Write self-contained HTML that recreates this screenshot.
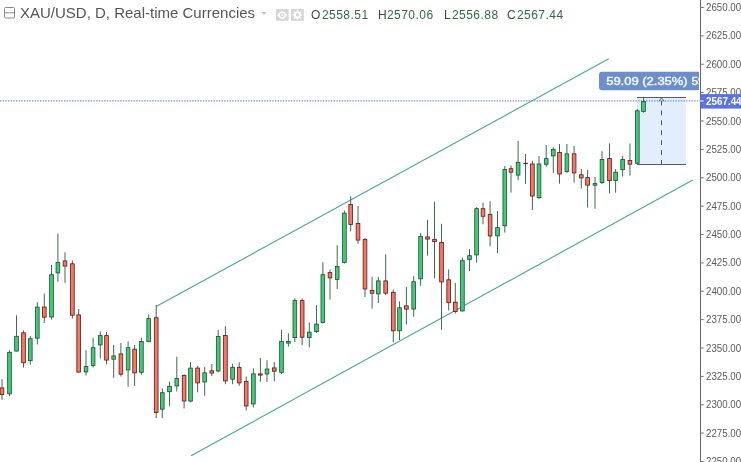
<!DOCTYPE html>
<html><head><meta charset="utf-8"><style>
html,body{margin:0;padding:0;background:#fff;width:741px;height:462px;overflow:hidden}
#wrap{position:relative;width:741px;height:462px;overflow:hidden;background:#fff}
svg{position:absolute;left:0;top:0;will-change:transform}
.hd{position:absolute;-webkit-font-smoothing:antialiased;will-change:transform;white-space:nowrap;font-family:"Liberation Sans",Arial,sans-serif}
</style></head><body><div id="wrap">
<svg width="741" height="462" viewBox="0 0 741 462">
<!-- measure rect -->
<rect x="637" y="97.5" width="48.8" height="67" fill="#e3eefc"/>
<!-- channel lines -->
<line x1="156.6" y1="306.3" x2="608.8" y2="58.8" stroke="#40aa92" stroke-width="1.1"/>
<line x1="191.1" y1="455.7" x2="692.8" y2="180.0" stroke="#40aa92" stroke-width="1.1"/>
<!-- last price dotted line -->
<line x1="0" y1="100.9" x2="700" y2="100.9" stroke="#7086ee" stroke-width="1.1" stroke-dasharray="1.34 1.33"/>
<line x1="2.00" y1="379.2" x2="2.00" y2="400.0" stroke="#3a6c4f" stroke-width="1"/>
<rect x="0.15" y="387.90" width="3.70" height="6.70" fill="#f97565" stroke="#5b1a13" stroke-width="0.8"/>
<line x1="9.50" y1="350.3" x2="9.50" y2="396.2" stroke="#3a6c4f" stroke-width="1"/>
<rect x="7.65" y="352.30" width="3.70" height="41.50" fill="#3ccd78" stroke="#1d4f31" stroke-width="0.8"/>
<line x1="16.50" y1="315.3" x2="16.50" y2="351.5" stroke="#3a6c4f" stroke-width="1"/>
<rect x="14.65" y="336.30" width="3.70" height="14.80" fill="#3ccd78" stroke="#1d4f31" stroke-width="0.8"/>
<line x1="23.50" y1="330.5" x2="23.50" y2="367.5" stroke="#3a6c4f" stroke-width="1"/>
<rect x="21.65" y="332.80" width="3.70" height="30.00" fill="#f97565" stroke="#5b1a13" stroke-width="0.8"/>
<line x1="30.30" y1="336.0" x2="30.30" y2="364.6" stroke="#3a6c4f" stroke-width="1"/>
<rect x="28.45" y="338.70" width="3.70" height="22.00" fill="#3ccd78" stroke="#1d4f31" stroke-width="0.8"/>
<line x1="37.30" y1="302.2" x2="37.30" y2="344.5" stroke="#3a6c4f" stroke-width="1"/>
<rect x="35.45" y="307.10" width="3.70" height="31.10" fill="#3ccd78" stroke="#1d4f31" stroke-width="0.8"/>
<line x1="44.30" y1="293.6" x2="44.30" y2="323.0" stroke="#3a6c4f" stroke-width="1"/>
<rect x="42.45" y="307.00" width="3.70" height="10.20" fill="#f97565" stroke="#5b1a13" stroke-width="0.8"/>
<line x1="51.50" y1="265.0" x2="51.50" y2="319.5" stroke="#3a6c4f" stroke-width="1"/>
<rect x="49.65" y="274.70" width="3.70" height="42.30" fill="#3ccd78" stroke="#1d4f31" stroke-width="0.8"/>
<line x1="57.90" y1="233.6" x2="57.90" y2="281.8" stroke="#3a6c4f" stroke-width="1"/>
<rect x="56.05" y="262.50" width="3.70" height="10.40" fill="#3ccd78" stroke="#1d4f31" stroke-width="0.8"/>
<line x1="65.00" y1="252.3" x2="65.00" y2="282.9" stroke="#3a6c4f" stroke-width="1"/>
<rect x="63.15" y="260.90" width="3.70" height="5.20" fill="#f97565" stroke="#5b1a13" stroke-width="0.8"/>
<line x1="72.40" y1="260.5" x2="72.40" y2="318.5" stroke="#3a6c4f" stroke-width="1"/>
<rect x="70.55" y="263.80" width="3.70" height="51.40" fill="#f97565" stroke="#5b1a13" stroke-width="0.8"/>
<line x1="78.70" y1="309.0" x2="78.70" y2="372.5" stroke="#3a6c4f" stroke-width="1"/>
<rect x="76.85" y="314.90" width="3.70" height="57.20" fill="#f97565" stroke="#5b1a13" stroke-width="0.8"/>
<line x1="86.00" y1="350.2" x2="86.00" y2="375.6" stroke="#3a6c4f" stroke-width="1"/>
<rect x="84.15" y="366.60" width="3.70" height="5.30" fill="#3ccd78" stroke="#1d4f31" stroke-width="0.8"/>
<line x1="93.10" y1="337.9" x2="93.10" y2="367.4" stroke="#3a6c4f" stroke-width="1"/>
<rect x="91.25" y="347.70" width="3.70" height="17.70" fill="#3ccd78" stroke="#1d4f31" stroke-width="0.8"/>
<line x1="100.30" y1="331.3" x2="100.30" y2="358.4" stroke="#3a6c4f" stroke-width="1"/>
<rect x="98.45" y="335.60" width="3.70" height="9.30" fill="#3ccd78" stroke="#1d4f31" stroke-width="0.8"/>
<line x1="106.50" y1="332.1" x2="106.50" y2="364.4" stroke="#3a6c4f" stroke-width="1"/>
<rect x="104.65" y="335.60" width="3.70" height="24.50" fill="#f97565" stroke="#5b1a13" stroke-width="0.8"/>
<line x1="113.70" y1="345.0" x2="113.70" y2="377.9" stroke="#3a6c4f" stroke-width="1"/>
<rect x="111.85" y="355.90" width="3.70" height="3.30" fill="#3ccd78" stroke="#1d4f31" stroke-width="0.8"/>
<line x1="120.90" y1="343.0" x2="120.90" y2="376.5" stroke="#3a6c4f" stroke-width="1"/>
<rect x="119.05" y="353.90" width="3.70" height="20.30" fill="#f97565" stroke="#5b1a13" stroke-width="0.8"/>
<line x1="128.10" y1="341.4" x2="128.10" y2="386.7" stroke="#3a6c4f" stroke-width="1"/>
<rect x="126.25" y="347.70" width="3.70" height="22.20" fill="#3ccd78" stroke="#1d4f31" stroke-width="0.8"/>
<line x1="134.60" y1="345.0" x2="134.60" y2="386.0" stroke="#3a6c4f" stroke-width="1"/>
<rect x="132.75" y="349.20" width="3.70" height="23.70" fill="#f97565" stroke="#5b1a13" stroke-width="0.8"/>
<line x1="141.40" y1="337.7" x2="141.40" y2="374.8" stroke="#3a6c4f" stroke-width="1"/>
<rect x="139.55" y="341.40" width="3.70" height="30.90" fill="#3ccd78" stroke="#1d4f31" stroke-width="0.8"/>
<line x1="148.70" y1="314.5" x2="148.70" y2="342.1" stroke="#3a6c4f" stroke-width="1"/>
<rect x="146.85" y="318.60" width="3.70" height="23.10" fill="#3ccd78" stroke="#1d4f31" stroke-width="0.8"/>
<line x1="156.20" y1="305.0" x2="156.20" y2="418.2" stroke="#3a6c4f" stroke-width="1"/>
<rect x="154.35" y="317.70" width="3.70" height="94.90" fill="#f97565" stroke="#5b1a13" stroke-width="0.8"/>
<line x1="162.30" y1="388.4" x2="162.30" y2="418.2" stroke="#3a6c4f" stroke-width="1"/>
<rect x="160.45" y="392.70" width="3.70" height="16.50" fill="#3ccd78" stroke="#1d4f31" stroke-width="0.8"/>
<line x1="169.50" y1="381.6" x2="169.50" y2="405.9" stroke="#3a6c4f" stroke-width="1"/>
<rect x="167.65" y="386.30" width="3.70" height="5.40" fill="#3ccd78" stroke="#1d4f31" stroke-width="0.8"/>
<line x1="176.80" y1="356.8" x2="176.80" y2="391.5" stroke="#3a6c4f" stroke-width="1"/>
<rect x="174.95" y="378.60" width="3.70" height="7.40" fill="#3ccd78" stroke="#1d4f31" stroke-width="0.8"/>
<line x1="184.10" y1="374.3" x2="184.10" y2="408.5" stroke="#3a6c4f" stroke-width="1"/>
<rect x="182.25" y="375.40" width="3.70" height="25.60" fill="#f97565" stroke="#5b1a13" stroke-width="0.8"/>
<line x1="190.50" y1="362.2" x2="190.50" y2="402.3" stroke="#3a6c4f" stroke-width="1"/>
<rect x="188.65" y="368.10" width="3.70" height="33.00" fill="#3ccd78" stroke="#1d4f31" stroke-width="0.8"/>
<line x1="197.60" y1="366.0" x2="197.60" y2="392.3" stroke="#3a6c4f" stroke-width="1"/>
<rect x="195.75" y="368.10" width="3.70" height="14.80" fill="#f97565" stroke="#5b1a13" stroke-width="0.8"/>
<line x1="204.70" y1="366.8" x2="204.70" y2="395.8" stroke="#3a6c4f" stroke-width="1"/>
<rect x="202.85" y="372.80" width="3.70" height="9.20" fill="#3ccd78" stroke="#1d4f31" stroke-width="0.8"/>
<line x1="211.80" y1="364.0" x2="211.80" y2="376.2" stroke="#3a6c4f" stroke-width="1"/>
<rect x="209.95" y="370.80" width="3.70" height="2.30" fill="#f97565" stroke="#5b1a13" stroke-width="0.8"/>
<line x1="218.20" y1="329.7" x2="218.20" y2="372.4" stroke="#3a6c4f" stroke-width="1"/>
<rect x="216.35" y="336.40" width="3.70" height="34.60" fill="#3ccd78" stroke="#1d4f31" stroke-width="0.8"/>
<line x1="225.40" y1="326.2" x2="225.40" y2="384.2" stroke="#3a6c4f" stroke-width="1"/>
<rect x="223.55" y="335.40" width="3.70" height="45.50" fill="#f97565" stroke="#5b1a13" stroke-width="0.8"/>
<line x1="232.60" y1="363.8" x2="232.60" y2="384.2" stroke="#3a6c4f" stroke-width="1"/>
<rect x="230.75" y="367.30" width="3.70" height="11.90" fill="#3ccd78" stroke="#1d4f31" stroke-width="0.8"/>
<line x1="239.20" y1="362.2" x2="239.20" y2="385.8" stroke="#3a6c4f" stroke-width="1"/>
<rect x="237.35" y="367.30" width="3.70" height="15.60" fill="#f97565" stroke="#5b1a13" stroke-width="0.8"/>
<line x1="246.20" y1="376.5" x2="246.20" y2="410.5" stroke="#3a6c4f" stroke-width="1"/>
<rect x="244.35" y="381.50" width="3.70" height="24.50" fill="#f97565" stroke="#5b1a13" stroke-width="0.8"/>
<line x1="253.40" y1="368.3" x2="253.40" y2="407.4" stroke="#3a6c4f" stroke-width="1"/>
<rect x="251.55" y="373.90" width="3.70" height="30.00" fill="#3ccd78" stroke="#1d4f31" stroke-width="0.8"/>
<line x1="260.40" y1="358.0" x2="260.40" y2="381.7" stroke="#3a6c4f" stroke-width="1"/>
<rect x="258.55" y="373.90" width="3.70" height="1.20" fill="#f97565" stroke="#5b1a13" stroke-width="0.8"/>
<line x1="267.00" y1="360.2" x2="267.00" y2="382.0" stroke="#3a6c4f" stroke-width="1"/>
<rect x="265.15" y="369.00" width="3.70" height="5.00" fill="#3ccd78" stroke="#1d4f31" stroke-width="0.8"/>
<line x1="274.30" y1="361.9" x2="274.30" y2="381.3" stroke="#3a6c4f" stroke-width="1"/>
<rect x="272.45" y="367.90" width="3.70" height="3.30" fill="#f97565" stroke="#5b1a13" stroke-width="0.8"/>
<line x1="281.50" y1="330.0" x2="281.50" y2="374.0" stroke="#3a6c4f" stroke-width="1"/>
<rect x="279.65" y="341.30" width="3.70" height="31.00" fill="#3ccd78" stroke="#1d4f31" stroke-width="0.8"/>
<line x1="288.40" y1="333.3" x2="288.40" y2="346.7" stroke="#3a6c4f" stroke-width="1"/>
<rect x="286.55" y="341.30" width="3.70" height="1.80" fill="#3ccd78" stroke="#1d4f31" stroke-width="0.8"/>
<line x1="294.85" y1="298.2" x2="294.85" y2="342.0" stroke="#3a6c4f" stroke-width="1"/>
<rect x="293.00" y="300.60" width="3.70" height="37.00" fill="#3ccd78" stroke="#1d4f31" stroke-width="0.8"/>
<line x1="302.15" y1="298.5" x2="302.15" y2="345.2" stroke="#3a6c4f" stroke-width="1"/>
<rect x="300.30" y="300.60" width="3.70" height="36.60" fill="#f97565" stroke="#5b1a13" stroke-width="0.8"/>
<line x1="309.30" y1="322.5" x2="309.30" y2="347.4" stroke="#3a6c4f" stroke-width="1"/>
<rect x="307.45" y="332.20" width="3.70" height="5.40" fill="#3ccd78" stroke="#1d4f31" stroke-width="0.8"/>
<line x1="316.50" y1="305.2" x2="316.50" y2="333.0" stroke="#3a6c4f" stroke-width="1"/>
<rect x="314.65" y="324.10" width="3.70" height="7.50" fill="#3ccd78" stroke="#1d4f31" stroke-width="0.8"/>
<line x1="322.85" y1="262.2" x2="322.85" y2="323.5" stroke="#3a6c4f" stroke-width="1"/>
<rect x="321.00" y="274.70" width="3.70" height="47.80" fill="#3ccd78" stroke="#1d4f31" stroke-width="0.8"/>
<line x1="330.00" y1="269.6" x2="330.00" y2="299.6" stroke="#3a6c4f" stroke-width="1"/>
<rect x="328.15" y="272.60" width="3.70" height="5.30" fill="#f97565" stroke="#5b1a13" stroke-width="0.8"/>
<line x1="337.20" y1="245.1" x2="337.20" y2="288.9" stroke="#3a6c4f" stroke-width="1"/>
<rect x="335.35" y="266.50" width="3.70" height="12.90" fill="#3ccd78" stroke="#1d4f31" stroke-width="0.8"/>
<line x1="344.40" y1="210.6" x2="344.40" y2="263.5" stroke="#3a6c4f" stroke-width="1"/>
<rect x="342.55" y="213.10" width="3.70" height="49.40" fill="#3ccd78" stroke="#1d4f31" stroke-width="0.8"/>
<line x1="350.70" y1="196.3" x2="350.70" y2="231.4" stroke="#3a6c4f" stroke-width="1"/>
<rect x="348.85" y="204.50" width="3.70" height="20.00" fill="#f97565" stroke="#5b1a13" stroke-width="0.8"/>
<line x1="358.00" y1="205.9" x2="358.00" y2="243.8" stroke="#3a6c4f" stroke-width="1"/>
<rect x="356.15" y="223.40" width="3.70" height="16.70" fill="#f97565" stroke="#5b1a13" stroke-width="0.8"/>
<line x1="365.00" y1="238.0" x2="365.00" y2="297.0" stroke="#3a6c4f" stroke-width="1"/>
<rect x="363.15" y="239.60" width="3.70" height="49.40" fill="#f97565" stroke="#5b1a13" stroke-width="0.8"/>
<line x1="372.10" y1="276.9" x2="372.10" y2="308.6" stroke="#3a6c4f" stroke-width="1"/>
<rect x="370.25" y="290.40" width="3.70" height="2.80" fill="#f97565" stroke="#5b1a13" stroke-width="0.8"/>
<line x1="378.30" y1="276.9" x2="378.30" y2="303.1" stroke="#3a6c4f" stroke-width="1"/>
<rect x="376.45" y="280.90" width="3.70" height="13.00" fill="#3ccd78" stroke="#1d4f31" stroke-width="0.8"/>
<line x1="385.70" y1="254.3" x2="385.70" y2="295.0" stroke="#3a6c4f" stroke-width="1"/>
<rect x="383.85" y="280.90" width="3.70" height="12.30" fill="#f97565" stroke="#5b1a13" stroke-width="0.8"/>
<line x1="393.30" y1="289.5" x2="393.30" y2="342.4" stroke="#3a6c4f" stroke-width="1"/>
<rect x="391.45" y="292.30" width="3.70" height="38.50" fill="#f97565" stroke="#5b1a13" stroke-width="0.8"/>
<line x1="399.50" y1="301.4" x2="399.50" y2="340.0" stroke="#3a6c4f" stroke-width="1"/>
<rect x="397.65" y="307.80" width="3.70" height="23.00" fill="#3ccd78" stroke="#1d4f31" stroke-width="0.8"/>
<line x1="406.40" y1="286.9" x2="406.40" y2="324.5" stroke="#3a6c4f" stroke-width="1"/>
<rect x="404.55" y="305.90" width="3.70" height="3.20" fill="#f97565" stroke="#5b1a13" stroke-width="0.8"/>
<line x1="413.70" y1="276.2" x2="413.70" y2="316.7" stroke="#3a6c4f" stroke-width="1"/>
<rect x="411.85" y="281.70" width="3.70" height="27.40" fill="#3ccd78" stroke="#1d4f31" stroke-width="0.8"/>
<line x1="420.60" y1="232.9" x2="420.60" y2="285.9" stroke="#3a6c4f" stroke-width="1"/>
<rect x="418.75" y="236.30" width="3.70" height="42.50" fill="#3ccd78" stroke="#1d4f31" stroke-width="0.8"/>
<line x1="427.50" y1="219.8" x2="427.50" y2="255.6" stroke="#3a6c4f" stroke-width="1"/>
<rect x="425.65" y="236.90" width="3.70" height="2.20" fill="#f97565" stroke="#5b1a13" stroke-width="0.8"/>
<line x1="434.50" y1="201.7" x2="434.50" y2="278.3" stroke="#3a6c4f" stroke-width="1"/>
<rect x="432.65" y="239.30" width="3.70" height="2.30" fill="#f97565" stroke="#5b1a13" stroke-width="0.8"/>
<line x1="441.50" y1="223.8" x2="441.50" y2="329.8" stroke="#3a6c4f" stroke-width="1"/>
<rect x="439.65" y="242.40" width="3.70" height="39.50" fill="#f97565" stroke="#5b1a13" stroke-width="0.8"/>
<line x1="448.70" y1="269.4" x2="448.70" y2="310.6" stroke="#3a6c4f" stroke-width="1"/>
<rect x="446.85" y="279.80" width="3.70" height="22.90" fill="#f97565" stroke="#5b1a13" stroke-width="0.8"/>
<line x1="455.30" y1="282.9" x2="455.30" y2="313.5" stroke="#3a6c4f" stroke-width="1"/>
<rect x="453.45" y="302.20" width="3.70" height="9.40" fill="#f97565" stroke="#5b1a13" stroke-width="0.8"/>
<line x1="462.40" y1="257.7" x2="462.40" y2="311.6" stroke="#3a6c4f" stroke-width="1"/>
<rect x="460.55" y="260.70" width="3.70" height="50.20" fill="#3ccd78" stroke="#1d4f31" stroke-width="0.8"/>
<line x1="469.50" y1="249.1" x2="469.50" y2="271.0" stroke="#3a6c4f" stroke-width="1"/>
<rect x="467.65" y="255.70" width="3.70" height="3.70" fill="#3ccd78" stroke="#1d4f31" stroke-width="0.8"/>
<line x1="476.60" y1="207.0" x2="476.60" y2="262.6" stroke="#3a6c4f" stroke-width="1"/>
<rect x="474.75" y="208.70" width="3.70" height="46.20" fill="#3ccd78" stroke="#1d4f31" stroke-width="0.8"/>
<line x1="483.00" y1="202.7" x2="483.00" y2="224.3" stroke="#3a6c4f" stroke-width="1"/>
<rect x="481.15" y="208.70" width="3.70" height="7.60" fill="#f97565" stroke="#5b1a13" stroke-width="0.8"/>
<line x1="490.10" y1="201.3" x2="490.10" y2="246.3" stroke="#3a6c4f" stroke-width="1"/>
<rect x="488.25" y="214.30" width="3.70" height="21.70" fill="#f97565" stroke="#5b1a13" stroke-width="0.8"/>
<line x1="497.50" y1="211.1" x2="497.50" y2="253.3" stroke="#3a6c4f" stroke-width="1"/>
<rect x="495.65" y="227.60" width="3.70" height="8.30" fill="#3ccd78" stroke="#1d4f31" stroke-width="0.8"/>
<line x1="504.80" y1="166.0" x2="504.80" y2="232.6" stroke="#3a6c4f" stroke-width="1"/>
<rect x="502.95" y="169.40" width="3.70" height="56.40" fill="#3ccd78" stroke="#1d4f31" stroke-width="0.8"/>
<line x1="511.00" y1="165.5" x2="511.00" y2="192.6" stroke="#3a6c4f" stroke-width="1"/>
<rect x="509.15" y="168.70" width="3.70" height="3.50" fill="#f97565" stroke="#5b1a13" stroke-width="0.8"/>
<line x1="518.10" y1="141.0" x2="518.10" y2="180.2" stroke="#3a6c4f" stroke-width="1"/>
<rect x="516.25" y="162.30" width="3.70" height="12.80" fill="#3ccd78" stroke="#1d4f31" stroke-width="0.8"/>
<line x1="525.50" y1="154.0" x2="525.50" y2="183.8" stroke="#3a6c4f" stroke-width="1"/>
<rect x="523.65" y="163.30" width="3.70" height="0.40" fill="#f97565" stroke="#5b1a13" stroke-width="0.8"/>
<line x1="532.40" y1="160.7" x2="532.40" y2="210.0" stroke="#3a6c4f" stroke-width="1"/>
<rect x="530.55" y="164.00" width="3.70" height="32.00" fill="#f97565" stroke="#5b1a13" stroke-width="0.8"/>
<line x1="539.00" y1="156.0" x2="539.00" y2="199.0" stroke="#3a6c4f" stroke-width="1"/>
<rect x="537.15" y="164.00" width="3.70" height="33.70" fill="#3ccd78" stroke="#1d4f31" stroke-width="0.8"/>
<line x1="546.20" y1="145.1" x2="546.20" y2="166.7" stroke="#3a6c4f" stroke-width="1"/>
<rect x="544.35" y="158.60" width="3.70" height="5.70" fill="#3ccd78" stroke="#1d4f31" stroke-width="0.8"/>
<line x1="553.30" y1="147.2" x2="553.30" y2="172.9" stroke="#3a6c4f" stroke-width="1"/>
<rect x="551.45" y="149.50" width="3.70" height="6.40" fill="#3ccd78" stroke="#1d4f31" stroke-width="0.8"/>
<line x1="559.50" y1="144.0" x2="559.50" y2="183.6" stroke="#3a6c4f" stroke-width="1"/>
<rect x="557.65" y="152.40" width="3.70" height="21.60" fill="#f97565" stroke="#5b1a13" stroke-width="0.8"/>
<line x1="566.90" y1="144.0" x2="566.90" y2="173.0" stroke="#3a6c4f" stroke-width="1"/>
<rect x="565.05" y="153.80" width="3.70" height="17.70" fill="#3ccd78" stroke="#1d4f31" stroke-width="0.8"/>
<line x1="574.10" y1="146.0" x2="574.10" y2="182.6" stroke="#3a6c4f" stroke-width="1"/>
<rect x="572.25" y="153.80" width="3.70" height="19.10" fill="#f97565" stroke="#5b1a13" stroke-width="0.8"/>
<line x1="581.30" y1="169.0" x2="581.30" y2="188.5" stroke="#3a6c4f" stroke-width="1"/>
<rect x="579.45" y="174.80" width="3.70" height="3.10" fill="#f97565" stroke="#5b1a13" stroke-width="0.8"/>
<line x1="587.60" y1="170.0" x2="587.60" y2="207.6" stroke="#3a6c4f" stroke-width="1"/>
<rect x="585.75" y="177.60" width="3.70" height="7.60" fill="#f97565" stroke="#5b1a13" stroke-width="0.8"/>
<line x1="595.00" y1="177.0" x2="595.00" y2="208.8" stroke="#3a6c4f" stroke-width="1"/>
<rect x="593.15" y="183.60" width="3.70" height="1.60" fill="#3ccd78" stroke="#1d4f31" stroke-width="0.8"/>
<line x1="602.00" y1="151.2" x2="602.00" y2="184.0" stroke="#3a6c4f" stroke-width="1"/>
<rect x="600.15" y="159.50" width="3.70" height="23.10" fill="#3ccd78" stroke="#1d4f31" stroke-width="0.8"/>
<line x1="609.50" y1="143.4" x2="609.50" y2="193.5" stroke="#3a6c4f" stroke-width="1"/>
<rect x="607.65" y="158.60" width="3.70" height="22.00" fill="#f97565" stroke="#5b1a13" stroke-width="0.8"/>
<line x1="615.60" y1="169.0" x2="615.60" y2="192.6" stroke="#3a6c4f" stroke-width="1"/>
<rect x="613.75" y="172.20" width="3.70" height="8.40" fill="#3ccd78" stroke="#1d4f31" stroke-width="0.8"/>
<line x1="622.65" y1="155.8" x2="622.65" y2="176.4" stroke="#3a6c4f" stroke-width="1"/>
<rect x="620.80" y="159.50" width="3.70" height="10.20" fill="#3ccd78" stroke="#1d4f31" stroke-width="0.8"/>
<line x1="629.95" y1="143.4" x2="629.95" y2="175.6" stroke="#3a6c4f" stroke-width="1"/>
<rect x="628.10" y="160.40" width="3.70" height="3.80" fill="#f97565" stroke="#5b1a13" stroke-width="0.8"/>
<line x1="637.30" y1="108.7" x2="637.30" y2="164.0" stroke="#3a6c4f" stroke-width="1"/>
<rect x="635.45" y="110.80" width="3.70" height="52.50" fill="#3ccd78" stroke="#1d4f31" stroke-width="0.8"/>
<line x1="643.50" y1="97.5" x2="643.50" y2="112.8" stroke="#3a6c4f" stroke-width="1"/>
<rect x="641.65" y="101.40" width="3.70" height="10.00" fill="#3ccd78" stroke="#1d4f31" stroke-width="0.8"/>
<!-- measure lines -->
<line x1="637" y1="97.5" x2="686" y2="97.5" stroke="#5a5a5a" stroke-width="1"/>
<line x1="637" y1="164.5" x2="686" y2="164.5" stroke="#5a5a5a" stroke-width="1"/>
<line x1="661.5" y1="164.8" x2="661.5" y2="100.5" stroke="#555" stroke-width="1" stroke-dasharray="4.8 5.1"/>
<polyline points="658.9,101.3 661.5,97.9 664.1,101.3" fill="none" stroke="#555" stroke-width="0.9"/>
<!-- measure label -->
<clipPath id="lc"><rect x="590" y="60" width="109" height="40"/></clipPath>
<g clip-path="url(#lc)">
<path d="M602,71.8 H699 V90.3 H602 A3,3 0 0 1 599,87.3 V74.8 A3,3 0 0 1 602,71.8 Z" fill="#6c8fcb"/>
<text x="606.2" y="84.9" font-family="Liberation Sans, Arial, sans-serif" font-size="11.4" fill="#f4f6fb" stroke="#f4f6fb" stroke-width="0.45" textLength="81.5" lengthAdjust="spacingAndGlyphs">59.09 (2.35%)</text>
<text x="691.6" y="84.9" font-family="Liberation Sans, Arial, sans-serif" font-size="11.4" fill="#f4f6fb" stroke="#f4f6fb" stroke-width="0.45" textLength="26" lengthAdjust="spacingAndGlyphs">5909</text>
</g>
<!-- price axis -->
<rect x="700" y="0" width="41" height="462" fill="#fff"/>
<line x1="700.5" y1="0" x2="700.5" y2="462" stroke="#666" stroke-width="1"/>
<g font-family="Liberation Sans, Arial, sans-serif" font-size="11" fill="#5a5a5a">
<line x1="700" y1="7.50" x2="703.7" y2="7.50" stroke="#707070" stroke-width="1"/>
<text x="706" y="11.00" textLength="35.2" lengthAdjust="spacingAndGlyphs">2650.00</text>
<line x1="700" y1="35.88" x2="703.7" y2="35.88" stroke="#707070" stroke-width="1"/>
<text x="706" y="39.38" textLength="35.2" lengthAdjust="spacingAndGlyphs">2625.00</text>
<line x1="700" y1="64.25" x2="703.7" y2="64.25" stroke="#707070" stroke-width="1"/>
<text x="706" y="67.75" textLength="35.2" lengthAdjust="spacingAndGlyphs">2600.00</text>
<line x1="700" y1="92.62" x2="703.7" y2="92.62" stroke="#707070" stroke-width="1"/>
<text x="706" y="96.12" textLength="35.2" lengthAdjust="spacingAndGlyphs">2575.00</text>
<line x1="700" y1="121.00" x2="703.7" y2="121.00" stroke="#707070" stroke-width="1"/>
<text x="706" y="124.50" textLength="35.2" lengthAdjust="spacingAndGlyphs">2550.00</text>
<line x1="700" y1="149.38" x2="703.7" y2="149.38" stroke="#707070" stroke-width="1"/>
<text x="706" y="152.88" textLength="35.2" lengthAdjust="spacingAndGlyphs">2525.00</text>
<line x1="700" y1="177.75" x2="703.7" y2="177.75" stroke="#707070" stroke-width="1"/>
<text x="706" y="181.25" textLength="35.2" lengthAdjust="spacingAndGlyphs">2500.00</text>
<line x1="700" y1="206.12" x2="703.7" y2="206.12" stroke="#707070" stroke-width="1"/>
<text x="706" y="209.62" textLength="35.2" lengthAdjust="spacingAndGlyphs">2475.00</text>
<line x1="700" y1="234.50" x2="703.7" y2="234.50" stroke="#707070" stroke-width="1"/>
<text x="706" y="238.00" textLength="35.2" lengthAdjust="spacingAndGlyphs">2450.00</text>
<line x1="700" y1="262.88" x2="703.7" y2="262.88" stroke="#707070" stroke-width="1"/>
<text x="706" y="266.38" textLength="35.2" lengthAdjust="spacingAndGlyphs">2425.00</text>
<line x1="700" y1="291.25" x2="703.7" y2="291.25" stroke="#707070" stroke-width="1"/>
<text x="706" y="294.75" textLength="35.2" lengthAdjust="spacingAndGlyphs">2400.00</text>
<line x1="700" y1="319.62" x2="703.7" y2="319.62" stroke="#707070" stroke-width="1"/>
<text x="706" y="323.12" textLength="35.2" lengthAdjust="spacingAndGlyphs">2375.00</text>
<line x1="700" y1="348.00" x2="703.7" y2="348.00" stroke="#707070" stroke-width="1"/>
<text x="706" y="351.50" textLength="35.2" lengthAdjust="spacingAndGlyphs">2350.00</text>
<line x1="700" y1="376.38" x2="703.7" y2="376.38" stroke="#707070" stroke-width="1"/>
<text x="706" y="379.88" textLength="35.2" lengthAdjust="spacingAndGlyphs">2325.00</text>
<line x1="700" y1="404.75" x2="703.7" y2="404.75" stroke="#707070" stroke-width="1"/>
<text x="706" y="408.25" textLength="35.2" lengthAdjust="spacingAndGlyphs">2300.00</text>
<line x1="700" y1="433.12" x2="703.7" y2="433.12" stroke="#707070" stroke-width="1"/>
<text x="706" y="436.62" textLength="35.2" lengthAdjust="spacingAndGlyphs">2275.00</text>
<line x1="700" y1="461.50" x2="703.7" y2="461.50" stroke="#707070" stroke-width="1"/>
<text x="706" y="465.00" textLength="35.2" lengthAdjust="spacingAndGlyphs">2250.00</text>
</g>
<rect x="700.5" y="94.1" width="41" height="14.5" fill="#5a73e3"/>
<line x1="700" y1="101" x2="703.5" y2="101" stroke="#fff" stroke-width="1"/>
<text x="706" y="105.2" font-family="Liberation Sans, Arial, sans-serif" font-size="11" font-weight="bold" fill="#fff" textLength="35.6" lengthAdjust="spacingAndGlyphs">2567.44</text>
</svg>
<!-- header -->
<svg width="20" height="20" style="left:0;top:0">
<rect x="4.5" y="7.5" width="10" height="10.5" rx="1" fill="none" stroke="#8b8b8b" stroke-width="1"/>
<line x1="4.5" y1="12.8" x2="14.5" y2="12.8" stroke="#8b8b8b" stroke-width="1"/>
</svg>
<div class="hd" style="left:20px;top:4px;font-size:15px;color:#555">XAU/USD, D, Real-time Currencies</div>
<svg width="741" height="30" style="left:0;top:0">
<path d="M261.2,12 L266.7,12 L264,15 Z" fill="#c3c3c3"/>
<rect x="276" y="9" width="12.6" height="11.8" fill="#d6d6d6"/>
<rect x="291" y="9" width="12.8" height="11.8" fill="#d6d6d6"/>
<path d="M277.4,15.1 Q282.2,7.4 287.0,15.1 Q282.2,22.8 277.4,15.1 Z" fill="#fff"/>
<circle cx="282.2" cy="15.1" r="2.3" fill="#d6d6d6"/>
<circle cx="282.2" cy="15.1" r="0.9" fill="#fff"/>
<path d="M300.91,14.21 L302.15,14.33 L302.15,15.67 L300.91,15.79 L300.44,16.93 L301.23,17.89 L300.29,18.83 L299.33,18.04 L298.19,18.51 L298.07,19.75 L296.73,19.75 L296.61,18.51 L295.47,18.04 L294.51,18.83 L293.57,17.89 L294.36,16.93 L293.89,15.79 L292.65,15.67 L292.65,14.33 L293.89,14.21 L294.36,13.07 L293.57,12.11 L294.51,11.17 L295.47,11.96 L296.61,11.49 L296.73,10.25 L298.07,10.25 L298.19,11.49 L299.33,11.96 L300.29,11.17 L301.23,12.11 L300.44,13.07 Z" fill="#fff"/>
<circle cx="297.4" cy="15.0" r="1.7" fill="#d6d6d6"/>
</svg>
<div class="hd" style="left:311px;top:8px;font-size:12px;color:#444">O</div>
<div class="hd" style="left:322px;top:8px;font-size:12px;color:#2f6b45;letter-spacing:0.45px">2558.51</div>
<div class="hd" style="left:377.8px;top:8px;font-size:12px;color:#444">H</div>
<div class="hd" style="left:387px;top:8px;font-size:12px;color:#2f6b45;letter-spacing:0.45px">2570.06</div>
<div class="hd" style="left:443.9px;top:8px;font-size:12px;color:#444">L</div>
<div class="hd" style="left:451.6px;top:8px;font-size:12px;color:#2f6b45;letter-spacing:0.45px">2556.88</div>
<div class="hd" style="left:506.6px;top:8px;font-size:12px;color:#444">C</div>
<div class="hd" style="left:516.5px;top:8px;font-size:12px;color:#2f6b45;letter-spacing:0.45px">2567.44</div>
</div></body></html>
